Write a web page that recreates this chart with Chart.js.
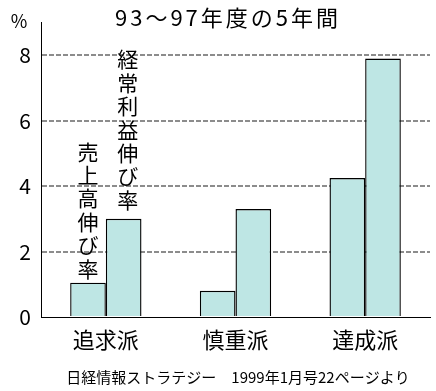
<!DOCTYPE html>
<html>
<head>
<meta charset="utf-8">
<script src="https://cdn.jsdelivr.net/npm/chart.js@4"></script>
<style>
  body { margin: 0; background: #fff; }
</style>
</head>
<body>
<canvas id="growth-chart" width="436" height="391"></canvas>
<script>
// Data
const groups = ["追求派", "慎重派", "達成派"];
const salesGrowth = [1.05, 0.8, 4.25];
const profitGrowth = [3.0, 3.3, 7.9];
const seriesNames = ["売上高伸び率", "経常利益伸び率"];
const yTicks = [0, 2, 4, 6, 8];

const titleText = "93～97年度の5年間";
const sourceText = "日経情報ストラテジー　1999年1月号22ページより";
const jpFont = '"Noto Sans CJK JP", sans-serif';

// Text drawn on top: title, unit, vertical series labels, source
const annotations = {
    id: 'annotations',
    afterDraw(chart) {
        const ctx = chart.ctx;
        ctx.save();
        ctx.fillStyle = '#000';
        ctx.textAlign = 'center';
        ctx.textBaseline = 'middle';

        ctx.font = '22px ' + jpFont;
        ctx.letterSpacing = '3px';
        ctx.fillText(titleText, chart.width / 2 + 10, 18);
        ctx.letterSpacing = '0px';

        ctx.font = '18px ' + jpFont;
        ctx.fillText('%', 19, 21);

        // vertical labels above the first group's bars
        ctx.font = '21px ' + jpFont;
        const dx = [0, 4];
        const gap = [14, 19];
        for (let s = 0; s < seriesNames.length; s++) {
            const bar = chart.getDatasetMeta(s).data[0];
            const chars = seriesNames[s].split('');
            let y = bar.y - gap[s];
            for (let i = chars.length - 1; i >= 0; i--) {
                ctx.fillText(chars[i], bar.x + dx[s], y);
                y -= 23.4;
            }
        }

        ctx.font = '15px ' + jpFont;
        ctx.fillText(sourceText, chart.width / 2 + 20, 377);
        ctx.restore();
    }
};

const barColor = '#bee6e4';
const growthCanvas = document.getElementById("growth-chart");
let growthChart = new Chart(growthCanvas, {
    type: 'bar',
    data: {
        labels: groups,
        datasets: [{
            label: seriesNames[0],
            data: salesGrowth,
            backgroundColor: barColor,
            borderColor: '#000',
            borderWidth: 1.4
        }, {
            label: seriesNames[1],
            data: profitGrowth,
            backgroundColor: barColor,
            borderColor: '#000',
            borderWidth: 1.4
        }]
    },
    options: {
        responsive: false,
        animation: false,
        layout: {
            padding: { top: 14, right: 6, left: 0, bottom: 0 }
        },
        plugins: {
            legend: { display: false },
            tooltip: { enabled: false }
        },
        datasets: {
            bar: {
                categoryPercentage: 0.55,
                barPercentage: 1
            }
        },
        scales: {
            x: {
                grid: { display: false },
                border: { color: '#000', width: 1 },
                ticks: {
                    color: '#000',
                    padding: 1,
                    font: { family: jpFont, size: 22 }
                },
                afterFit: scale => { scale.height = 74; }
            },
            y: {
                min: 0,
                max: 9,
                afterBuildTicks: scale => {
                    scale.ticks = yTicks.map(v => ({ value: v }));
                },
                grid: {
                    drawTicks: false,
                    lineWidth: 2,
                    color: ctx => ctx.tick && ctx.tick.value === 0 ? 'rgba(0,0,0,0)' : '#8c8c8c'
                },
                border: { color: '#000', width: 1, dash: [5, 2] },
                ticks: {
                    color: '#000',
                    padding: 10,
                    font: { family: jpFont, size: 21 }
                },
                afterFit: scale => { scale.width = 41; }
            }
        }
    },
    plugins: [annotations]
});
</script>
</body>
</html>
